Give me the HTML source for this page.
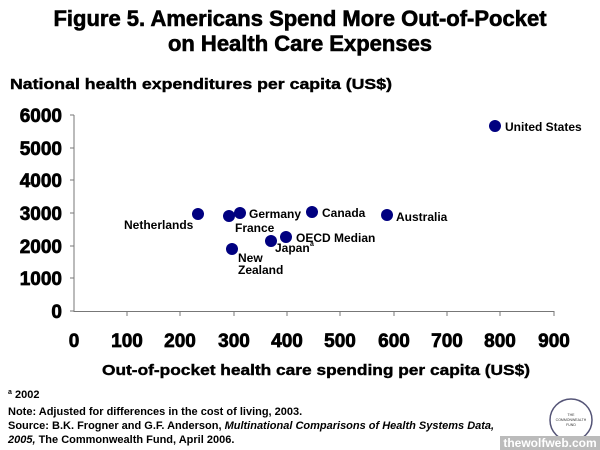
<!DOCTYPE html>
<html><head><style>
body{margin:0;width:600px;height:450px;background:#fff;font-family:"Liberation Sans",Arial,sans-serif;overflow:hidden;position:relative}
</style></head><body>
<svg width="600" height="450" style="position:absolute;left:0;top:0" font-family="Liberation Sans,Arial,sans-serif">
<g font-size="22" font-weight="bold" text-anchor="middle" stroke="#000" stroke-width="0.6">
<text x="300" y="26">Figure 5. Americans Spend More Out-of-Pocket</text>
<text x="300" y="51">on Health Care Expenses</text>
</g>
<text x="10" y="89" font-size="15" font-weight="bold" textLength="382" lengthAdjust="spacingAndGlyphs" stroke="#000" stroke-width="0.4">National health expenditures per capita (US$)</text>
<g stroke="#777" stroke-width="1">
<line x1="74" y1="115" x2="74" y2="312"/>
<line x1="74" y1="311.5" x2="554" y2="311.5"/>
<line x1="70" y1="115" x2="74" y2="115"/><line x1="70" y1="148" x2="74" y2="148"/><line x1="70" y1="180" x2="74" y2="180"/><line x1="70" y1="213" x2="74" y2="213"/><line x1="70" y1="246" x2="74" y2="246"/><line x1="70" y1="278" x2="74" y2="278"/><line x1="70" y1="311" x2="74" y2="311"/>
<line x1="127" y1="311" x2="127" y2="316"/><line x1="180" y1="311" x2="180" y2="316"/><line x1="234" y1="311" x2="234" y2="316"/><line x1="287" y1="311" x2="287" y2="316"/><line x1="340" y1="311" x2="340" y2="316"/><line x1="394" y1="311" x2="394" y2="316"/><line x1="447" y1="311" x2="447" y2="316"/><line x1="500" y1="311" x2="500" y2="316"/><line x1="554" y1="311" x2="554" y2="316"/>
</g>
<g font-size="19" font-weight="bold" text-anchor="end" stroke="#000" stroke-width="0.7">
<text x="62" y="122">6000</text><text x="62" y="155">5000</text><text x="62" y="187">4000</text><text x="62" y="220">3000</text><text x="62" y="253">2000</text><text x="62" y="285">1000</text><text x="62" y="318">0</text>
</g>
<g font-size="19" font-weight="bold" text-anchor="middle" stroke="#000" stroke-width="0.7">
<text x="74" y="347">0</text><text x="127" y="347">100</text><text x="180" y="347">200</text><text x="234" y="347">300</text><text x="287" y="347">400</text><text x="340" y="347">500</text><text x="394" y="347">600</text><text x="447" y="347">700</text><text x="500" y="347">800</text><text x="554" y="347">900</text>
</g>
<g fill="#000080">
<circle cx="198" cy="214" r="6"/><circle cx="229" cy="216" r="6"/><circle cx="240" cy="213" r="6"/><circle cx="232" cy="249" r="6"/><circle cx="271" cy="241" r="6"/><circle cx="286" cy="237" r="6"/><circle cx="312" cy="212" r="6"/><circle cx="387" cy="215" r="6"/><circle cx="495" cy="126" r="6"/>
</g>
<g font-size="12" font-weight="bold">
<text x="124" y="229">Netherlands</text>
<text x="235" y="232">France</text>
<text x="249" y="218">Germany</text>
<text x="238" y="162" dy="100">New</text><text x="238" y="274">Zealand</text>
<text x="275" y="252">Japan</text><text x="310" y="246" font-size="7">a</text>
<text x="296" y="242">OECD Median</text>
<text x="322" y="217">Canada</text>
<text x="396" y="221">Australia</text>
<text x="505" y="131">United States</text>
</g>
<text x="102" y="375" font-size="15" font-weight="bold" textLength="428" lengthAdjust="spacingAndGlyphs" stroke="#000" stroke-width="0.4">Out-of-pocket health care spending per capita (US$)</text>
<g font-size="11" font-weight="bold">
<text x="8" y="398"><tspan font-size="7" dy="-4">a</tspan><tspan dy="4"> 2002</tspan></text>
<text x="8" y="415">Note: Adjusted for differences in the cost of living, 2003.</text>
<text x="8" y="429">Source: B.K. Frogner and G.F. Anderson, <tspan font-style="italic">Multinational Comparisons of Health Systems Data,</tspan></text>
<text x="8" y="443"><tspan font-style="italic">2005,</tspan> The Commonwealth Fund, April 2006.</text>
</g>
<circle cx="571" cy="420" r="21" fill="#fff" stroke="#557" stroke-width="1.5"/>
<g font-size="3.5" text-anchor="middle" fill="#333"><text x="571" y="416">THE</text><text x="571" y="421">COMMONWEALTH</text><text x="571" y="426">FUND</text></g>
<rect x="500" y="436" width="100" height="14" fill="#bbb"/>
<text x="550" y="447" font-size="12" font-weight="bold" fill="#fff" text-anchor="middle">thewolfweb.com</text>
</svg>
</body></html>
